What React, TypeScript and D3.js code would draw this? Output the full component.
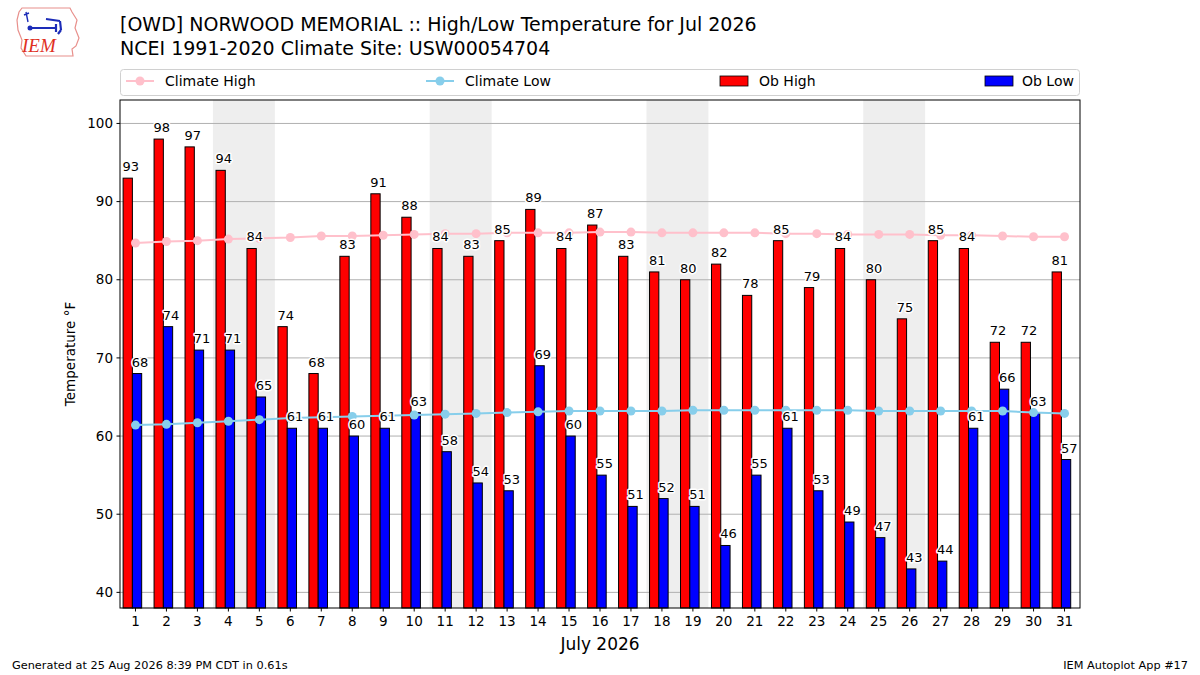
import * as d3 from 'd3'

// July 2026 observations, OWD Norwood Memorial
const days = [1, 2, 3, 4, 5, 6, 7, 8, 9, 10, 11, 12, 13, 14, 15, 16, 17, 18, 19, 20, 21, 22, 23, 24, 25, 26, 27, 28, 29, 30, 31]
const obHigh = [93, 98, 97, 94, 84, 74, 68, 83, 91, 88, 84, 83, 85, 89, 84, 87, 83, 81, 80, 82, 78, 85, 79, 84, 80, 75, 85, 84, 72, 72, 81]
const obLow = [68, 74, 71, 71, 65, 61, 61, 60, 61, 63, 58, 54, 53, 69, 60, 55, 51, 52, 51, 46, 55, 61, 53, 49, 47, 43, 44, 61, 66, 63, 57]
const climateHigh = [84.7, 84.9, 85.0, 85.2, 85.3, 85.4, 85.6, 85.6, 85.7, 85.8, 85.9, 85.9, 86.0, 86.0, 86.0, 86.1, 86.1, 86.0, 86.0, 86.0, 86.0, 85.9, 85.9, 85.8, 85.8, 85.8, 85.7, 85.7, 85.6, 85.5, 85.5]
const climateLow = [61.4, 61.5, 61.7, 61.9, 62.1, 62.3, 62.4, 62.5, 62.6, 62.7, 62.8, 62.9, 63.0, 63.1, 63.2, 63.2, 63.2, 63.2, 63.3, 63.3, 63.3, 63.3, 63.3, 63.3, 63.2, 63.2, 63.2, 63.2, 63.2, 63.0, 62.9]
const weekendStarts = [4, 11, 18, 25]
const yTicks = [40, 50, 60, 70, 80, 90, 100]

const FONT = 'DejaVu Sans, sans-serif'

const Logo = () => (
  <g>
    <path
      d="M22,8 L70,8 L72,12 L77,20 L75,28 L79,38 L76,46 L72,49 L73,56 L26,56 L21,48 L22,40 L18,30 L17,20 L19,12 Z"
      fill="#fff"
      stroke="#e8908c"
      strokeWidth={1.2}
    />
    <path d="M31,28 L56,28 M56,24 L56,32 M46,19 L60,21 M60,21 L61,30 M61,30 L58,34" stroke="#1c2cb8" strokeWidth={2.2} fill="none" />
    <circle cx={30} cy={28} r={2.5} fill="#1c2cb8" />
    <path d="M26,12 L28,22 M24,15 L29,13" stroke="#1c2cb8" strokeWidth={1.4} fill="none" />
    <text x={22} y={52} fontFamily="Liberation Serif, serif" fontStyle="italic" fontSize={19} fill="#e0301e">
      IEM
    </text>
  </g>
)

export default function App() {
  const left = 120
  const right = 1080
  const top = 100
  const bottom = 608

  const x = d3.scaleLinear().domain([0.5, 31.5]).range([left, right])
  const y = d3.scaleLinear().domain([38, 103]).range([bottom, top])
  const bw = x(0.3) - x(0)

  const line = d3
    .line<number>()
    .x((_, i) => x(days[i]))
    .y(d => y(d))

  const label = (tx: number, ty: number, t: number | string, key: string) => (
    <g key={key}>
      <text x={tx} y={ty} textAnchor="middle" fontSize={13} fontFamily={FONT} stroke="#fff" strokeWidth={3} strokeLinejoin="round" fill="#fff">
        {t}
      </text>
      <text x={tx} y={ty} textAnchor="middle" fontSize={13} fontFamily={FONT} fill="#000">
        {t}
      </text>
    </g>
  )

  return (
    <div style={{ position: 'absolute', left: 0, top: 0 }}>
      <svg width={1200} height={675} style={{ display: 'block', background: '#fff' }}>
        <Logo />
        <text x={120} y={31} fontFamily={FONT} fontSize={19} fill="#000">
          [OWD] NORWOOD MEMORIAL :: High/Low Temperature for Jul 2026
        </text>
        <text x={120} y={55} fontFamily={FONT} fontSize={19} fill="#000">
          NCEI 1991-2020 Climate Site: USW00054704
        </text>

        {/* legend */}
        <rect x={120.5} y={69.5} width={959} height={26} rx={3} fill="#fff" stroke="#d0d0d0" />
        <line x1={126} x2={154} y1={81} y2={81} stroke="pink" strokeWidth={2} />
        <circle cx={140} cy={81} r={4.5} fill="pink" />
        <text x={165} y={86} fontFamily={FONT} fontSize={14} fill="#000">Climate High</text>
        <line x1={426} x2={454} y1={81} y2={81} stroke="skyblue" strokeWidth={2} />
        <circle cx={440} cy={81} r={4.5} fill="skyblue" />
        <text x={465} y={86} fontFamily={FONT} fontSize={14} fill="#000">Climate Low</text>
        <rect x={720} y={76} width={28} height={10} fill="red" stroke="#000" strokeWidth={0.8} />
        <text x={759} y={86} fontFamily={FONT} fontSize={14} fill="#000">Ob High</text>
        <rect x={985} y={76} width={28} height={10} fill="blue" stroke="#000" strokeWidth={0.8} />
        <text x={1022} y={86} fontFamily={FONT} fontSize={14} fill="#000">Ob Low</text>

        {/* weekend shading */}
        {weekendStarts.map(d => (
          <rect key={`w${d}`} x={x(d - 0.5)} y={top} width={x(d + 1.5) - x(d - 0.5)} height={bottom - top} fill="#eeeeee" />
        ))}

        {/* grid */}
        {yTicks.map(t => (
          <line key={`g${t}`} x1={left} x2={right} y1={y(t)} y2={y(t)} stroke="#b0b0b0" strokeWidth={1} />
        ))}

        {/* bars */}
        {days.map((d, i) => (
          <g key={`b${d}`}>
            <rect x={x(d - 0.4)} y={y(obHigh[i])} width={bw} height={bottom - y(obHigh[i])} fill="red" stroke="#000" strokeWidth={1} />
            <rect x={x(d - 0.1)} y={y(obLow[i])} width={bw} height={bottom - y(obLow[i])} fill="blue" stroke="#000" strokeWidth={1} />
          </g>
        ))}

        {/* climate lines */}
        <path d={line(climateHigh) || ''} fill="none" stroke="pink" strokeWidth={2} />
        {climateHigh.map((v, i) => (
          <circle key={`ch${i}`} cx={x(days[i])} cy={y(v)} r={4.5} fill="pink" />
        ))}
        <path d={line(climateLow) || ''} fill="none" stroke="skyblue" strokeWidth={2} />
        {climateLow.map((v, i) => (
          <circle key={`cl${i}`} cx={x(days[i])} cy={y(v)} r={4.5} fill="skyblue" />
        ))}

        {/* value labels */}
        {days.map((d, i) => label(x(d - 0.15), y(obHigh[i]) - 7, obHigh[i], `lh${d}`))}
        {days.map((d, i) => label(x(d + 0.15), y(obLow[i]) - 7, obLow[i], `ll${d}`))}

        {/* axes frame */}
        <rect x={left} y={top} width={right - left} height={bottom - top} fill="none" stroke="#000" strokeWidth={1} />

        {/* y axis */}
        {yTicks.map(t => (
          <g key={`yt${t}`}>
            <line x1={left - 3.5} x2={left} y1={y(t)} y2={y(t)} stroke="#000" />
            <text x={left - 7} y={y(t) + 4.7} textAnchor="end" fontFamily={FONT} fontSize={13.5} fill="#000">
              {t}
            </text>
          </g>
        ))}
        <text transform={`translate(75,${(top + bottom) / 2}) rotate(-90)`} textAnchor="middle" fontFamily={FONT} fontSize={13.5} fill="#000">
          Temperature °F
        </text>

        {/* x axis */}
        {days.map(d => (
          <g key={`xt${d}`}>
            <line x1={x(d)} x2={x(d)} y1={bottom} y2={bottom + 3.5} stroke="#000" />
            <text x={x(d)} y={bottom + 18} textAnchor="middle" fontFamily={FONT} fontSize={13.5} fill="#000">
              {d}
            </text>
          </g>
        ))}
        <text x={(left + right) / 2} y={650} textAnchor="middle" fontFamily={FONT} fontSize={17} fill="#000">
          July 2026
        </text>

        {/* footer */}
        <text x={12} y={669} fontFamily={FONT} fontSize={11.3} fill="#000">
          Generated at 25 Aug 2026 8:39 PM CDT in 0.61s
        </text>
        <text x={1188} y={669} textAnchor="end" fontFamily={FONT} fontSize={11.3} fill="#000">
          IEM Autoplot App #17
        </text>
      </svg>
    </div>
  )
}
